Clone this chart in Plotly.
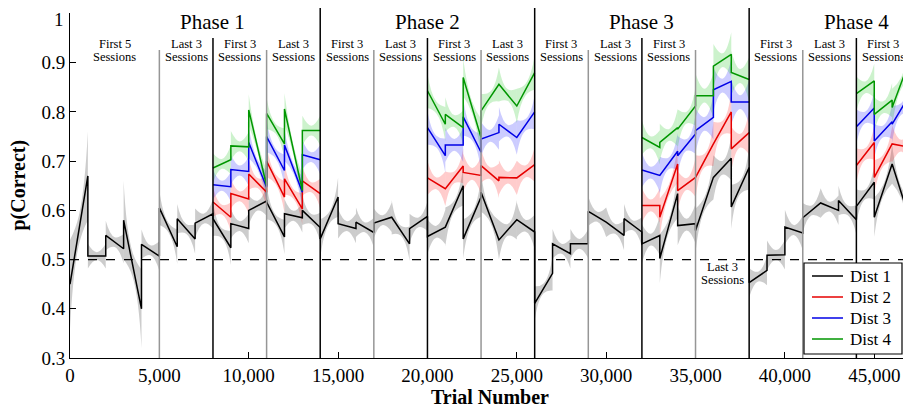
import plotly.graph_objects as go

SESSION_LEN = 1000  # trials per session

# ---- session start trials ----
all_sessions = [0, 1000, 2000, 3000, 4000, 5000, 6000, 7000,
                8000, 9000, 10000, 11000, 12000, 13000,
                14000, 15000, 16000, 17000, 18000, 19000,
                20000, 21000, 22000, 23000, 24000, 25000,
                26000, 27000, 28000, 29000, 30000, 31000,
                32000, 33000, 34000, 35000, 36000, 37000,
                38000, 39000, 40000, 41000, 42000, 43000,
                44000, 45000, 46000]
colored_sessions = [8000, 9000, 10000, 11000, 12000, 13000,
                    20000, 21000, 22000, 23000, 24000, 25000,
                    32000, 33000, 34000, 35000, 36000, 37000,
                    44000, 45000, 46000]

# ---- Dist 1 (all sessions) ----
dist1_start = [0.450, 0.507, 0.549, 0.580, 0.531, 0.605, 0.583, 0.574,
               0.583, 0.573, 0.600, 0.617, 0.593, 0.600,
               0.542, 0.573, 0.576, 0.574, 0.586, 0.563,
               0.547, 0.566, 0.542, 0.637, 0.540, 0.581,
               0.411, 0.532, 0.532, 0.598, 0.576, 0.583,
               0.532, 0.502, 0.569, 0.559, 0.667, 0.607,
               0.453, 0.509, 0.566, 0.585, 0.615, 0.620,
               0.608, 0.586, 0.694]
dist1_end = [0.670, 0.507, 0.522, 0.400, 0.507, 0.526, 0.542, 0.593,
             0.524, 0.563, 0.619, 0.546, 0.585, 0.565,
             0.627, 0.563, 0.555, 0.586, 0.532, 0.588,
             0.566, 0.650, 0.627, 0.540, 0.581, 0.556,
             0.472, 0.512, 0.532, 0.576, 0.549, 0.556,
             0.549, 0.634, 0.573, 0.667, 0.706, 0.687,
             0.478, 0.510, 0.554, 0.615, 0.600, 0.581,
             0.657, 0.694, 0.580]
dist1_ci_end = [0.090, 0.025, 0.030, 0.080, 0.030, 0.035, 0.030, 0.030,
                0.035, 0.030, 0.030, 0.035, 0.030, 0.030,
                0.040, 0.030, 0.030, 0.030, 0.035, 0.030,
                0.035, 0.040, 0.040, 0.040, 0.040, 0.035,
                0.035, 0.030, 0.030, 0.030, 0.030, 0.030,
                0.040, 0.050, 0.040, 0.045, 0.045, 0.045,
                0.030, 0.030, 0.035, 0.030, 0.030, 0.030,
                0.035, 0.040, 0.040]
dist1_ci_mid = [0.030, 0.008, 0.010, 0.025, 0.010, 0.010, 0.010, 0.010,
                0.010, 0.010, 0.010, 0.010, 0.010, 0.010,
                0.012, 0.010, 0.010, 0.010, 0.010, 0.010,
                0.012, 0.012, 0.012, 0.012, 0.012, 0.012,
                0.010, 0.010, 0.010, 0.010, 0.010, 0.010,
                0.012, 0.014, 0.012, 0.014, 0.014, 0.014,
                0.010, 0.010, 0.010, 0.010, 0.010, 0.010,
                0.010, 0.012, 0.012]

# ---- Dist 2 ----
dist2_start = [0.617, 0.634, 0.674, 0.700, 0.664, 0.660,
               0.666, 0.644, 0.677, 0.691, 0.667, 0.666,
               0.610, 0.586, 0.640, 0.667, 0.735, 0.725,
               0.691, 0.667, 0.735]
dist2_end = [0.586, 0.623, 0.637, 0.627, 0.603, 0.634,
             0.644, 0.690, 0.671, 0.660, 0.666, 0.693,
             0.610, 0.694, 0.667, 0.735, 0.800, 0.758,
             0.738, 0.735, 0.728]

# ---- Dist 3 ----
dist3_start = [0.652, 0.683, 0.738, 0.750, 0.733, 0.713,
               0.768, 0.733, 0.790, 0.745, 0.775, 0.748,
               0.682, 0.671, 0.711, 0.762, 0.845, 0.820,
               0.770, 0.741, 0.775]
dist3_end = [0.648, 0.679, 0.647, 0.681, 0.637, 0.703,
             0.711, 0.733, 0.718, 0.758, 0.748, 0.800,
             0.671, 0.720, 0.755, 0.789, 0.862, 0.820,
             0.808, 0.780, 0.836]

# ---- Dist 4 ----
dist4_start = [0.686, 0.731, 0.804, 0.797, 0.806, 0.762,
               0.843, 0.795, 0.870, 0.802, 0.856, 0.812,
               0.748, 0.738, 0.765, 0.833, 0.893, 0.880,
               0.837, 0.795, 0.809]
dist4_end = [0.703, 0.729, 0.650, 0.735, 0.640, 0.762,
             0.775, 0.768, 0.748, 0.856, 0.812, 0.880,
             0.728, 0.768, 0.812, 0.833, 0.917, 0.866,
             0.863, 0.824, 0.907]

colored_ci_end = [0.030, 0.030, 0.032, 0.032, 0.032, 0.030,
                  0.035, 0.035, 0.038, 0.035, 0.035, 0.035,
                  0.035, 0.038, 0.040, 0.045, 0.045, 0.045,
                  0.035, 0.035, 0.038]
colored_ci_mid = [0.010, 0.010, 0.010, 0.010, 0.010, 0.010,
                  0.012, 0.012, 0.012, 0.012, 0.012, 0.012,
                  0.012, 0.012, 0.012, 0.014, 0.014, 0.014,
                  0.012, 0.012, 0.012]

# ---- annotations text ----
phase_labels = ["Phase 1", "Phase 2", "Phase 3", "Phase 4"]
phase_centers = [8000, 20000, 32000, 44000]
block_labels = [("First 5", 2500), ("Last 3", 6500), ("First 3", 9500), ("Last 3", 12500),
                ("First 3", 15500), ("Last 3", 18500), ("First 3", 21500), ("Last 3", 24500),
                ("First 3", 27500), ("Last 3", 30500), ("First 3", 33500),
                ("First 3", 39500), ("Last 3", 42500), ("First 3", 45500)]
bottom_label = ("Last 3", 36500)
phase_lines = [14000, 26000, 38000]
part_lines = [8000, 20000, 32000, 44000]
block_lines = [5000, 11000, 17000, 23000, 29000, 35000, 41000]

yticks = [0.3, 0.4, 0.5, 0.6, 0.7, 0.8, 0.9, 1.0]
yticktext = ["0.3", "0.4", "0.5", "0.6", "0.7", "0.8", "0.9", "1"]
xticks = [0, 5000, 10000, 15000, 20000, 25000, 30000, 35000, 40000, 45000]
xticktext = ["0", "5,000", "10,000", "15,000", "20,000", "25,000", "30,000", "35,000", "40,000", "45,000"]

FONT = "Liberation Serif"
X0, X1 = 0, 47000
Y0, Y1 = 0.3, 1.001
# page body has an 8px margin; figure sized to fill the rest of the window
PAGE_OFF = 8
FIG_W, FIG_H = 911 - PAGE_OFF, 411 - PAGE_OFF
# plot-area bounds in window pixels
PLOT_L, PLOT_R, PLOT_TOP_PX, PLOT_BOT_PX = 70, 910, 13, 358
PLOT_H = PLOT_BOT_PX - PLOT_TOP_PX
PLOT_W = PLOT_R - PLOT_L


def py(px):
    """window pixel row -> paper y"""
    return (PLOT_BOT_PX - px) / PLOT_H


def pxp(px):
    """window pixel column -> paper x"""
    return (px - PLOT_L) / PLOT_W


fig = go.Figure()


def add_bands(starts, v0s, v1s, ce, cm, fillcolor):
    for xs, a, b, e, m in zip(starts, v0s, v1s, ce, cm):
        xm = xs + SESSION_LEN / 2
        x1 = xs + SESSION_LEN
        vm = (a + b) / 2
        fig.add_trace(go.Scatter(x=[xs, xm, x1], y=[a - e, vm - m, b - e], mode="lines",
                                 line=dict(width=0, color="rgba(0,0,0,0)", shape="spline", smoothing=1.3),
                                 showlegend=False, hoverinfo="skip"))
        fig.add_trace(go.Scatter(x=[xs, xm, x1], y=[a + e, vm + m, b + e], mode="lines",
                                 line=dict(width=0, color="rgba(0,0,0,0)", shape="spline", smoothing=1.3),
                                 fill="tonexty", fillcolor=fillcolor,
                                 showlegend=False, hoverinfo="skip"))


def line_xy(starts, v0s, v1s):
    xs_out, ys_out = [], []
    prev_end = None
    for xs, a, b in zip(starts, v0s, v1s):
        if prev_end is not None and xs != prev_end:
            xs_out.append(None)
            ys_out.append(None)
        xs_out += [xs, xs + SESSION_LEN]
        ys_out += [a, b]
        prev_end = xs + SESSION_LEN
    return xs_out, ys_out


add_bands(all_sessions, dist1_start, dist1_end, dist1_ci_end, dist1_ci_mid, "rgba(0,0,0,0.2)")
add_bands(colored_sessions, dist2_start, dist2_end, colored_ci_end, colored_ci_mid, "rgba(255,0,0,0.2)")
add_bands(colored_sessions, dist3_start, dist3_end, colored_ci_end, colored_ci_mid, "rgba(0,0,255,0.2)")
add_bands(colored_sessions, dist4_start, dist4_end, colored_ci_end, colored_ci_mid, "rgba(0,190,0,0.2)")

series = [("Dist 1", all_sessions, dist1_start, dist1_end, "black"),
          ("Dist 2", colored_sessions, dist2_start, dist2_end, "rgb(230,0,0)"),
          ("Dist 3", colored_sessions, dist3_start, dist3_end, "rgb(0,0,230)"),
          ("Dist 4", colored_sessions, dist4_start, dist4_end, "rgb(0,150,0)")]
for name, st, a, b, col in series:
    x, y = line_xy(st, a, b)
    fig.add_trace(go.Scatter(x=x, y=y, mode="lines", name=name, showlegend=False,
                             line=dict(color=col, width=1.5), connectgaps=False))

shapes = []
shapes.append(dict(type="line", xref="paper", yref="y", x0=0, x1=1, y0=0.5, y1=0.5,
                   line=dict(color="black", width=1.2, dash="dash")))
for xv in phase_lines:
    shapes.append(dict(type="line", xref="x", yref="paper", x0=xv, x1=xv, y0=0, y1=py(7),
                       line=dict(color="black", width=1.5)))
for xv in part_lines:
    shapes.append(dict(type="line", xref="x", yref="paper", x0=xv, x1=xv, y0=0, y1=py(38),
                       line=dict(color="black", width=1.5)))
for xv in block_lines:
    shapes.append(dict(type="line", xref="x", yref="paper", x0=xv, x1=xv, y0=0, y1=py(50),
                       line=dict(color="rgb(150,150,150)", width=1.5)))

annotations = []
for lab, xc in zip(phase_labels, phase_centers):
    annotations.append(dict(x=xc, y=py(22), xref="x", yref="paper", text=lab, showarrow=False,
                            font=dict(family=FONT, size=21, color="black"),
                            xanchor="center", yanchor="middle"))
for lab, xc in block_labels:
    annotations.append(dict(x=xc, y=py(44), xref="x", yref="paper", text=lab, showarrow=False,
                            font=dict(family=FONT, size=12.5, color="black"),
                            xanchor="center", yanchor="middle"))
    annotations.append(dict(x=xc, y=py(57), xref="x", yref="paper", text="Sessions", showarrow=False,
                            font=dict(family=FONT, size=12.5, color="black"),
                            xanchor="center", yanchor="middle"))
annotations.append(dict(x=bottom_label[1], y=py(267), xref="x", yref="paper", text=bottom_label[0],
                        showarrow=False, font=dict(family=FONT, size=12.5, color="black"),
                        xanchor="center", yanchor="middle"))
annotations.append(dict(x=bottom_label[1], y=py(280), xref="x", yref="paper", text="Sessions",
                        showarrow=False, font=dict(family=FONT, size=12.5, color="black"),
                        xanchor="center", yanchor="middle"))
annotations.append(dict(x=0.5, y=py(397), xref="paper", yref="paper", text="<b>Trial Number</b>",
                        showarrow=False, font=dict(family=FONT, size=20, color="black"),
                        xanchor="center", yanchor="middle"))
annotations.append(dict(x=pxp(18), y=0.5, xref="paper", yref="paper", text="<b>p(Correct)</b>",
                        showarrow=False, textangle=-90, font=dict(family=FONT, size=20, color="black"),
                        xanchor="center", yanchor="middle"))
# top y tick label placed as an annotation so it stays fully inside the page
annotations.append(dict(x=pxp(65), y=py(PAGE_OFF), xref="paper", yref="paper", text=yticktext[-1],
                        showarrow=False, font=dict(family=FONT, size=19, color="black"),
                        xanchor="right", yanchor="top", borderpad=0))

# ---- legend box (drawn with shapes + text) ----
LEG_L, LEG_R, LEG_T, LEG_B = 804, 902, 263, 354
legend_rows = [276, 297, 318, 339]
shapes.append(dict(type="rect", xref="paper", yref="paper", x0=pxp(LEG_L), x1=pxp(LEG_R),
                   y0=py(LEG_B), y1=py(LEG_T), fillcolor="white",
                   line=dict(color="black", width=1.2), layer="above"))
for (name, _, _, _, col), row in zip(series, legend_rows):
    shapes.append(dict(type="line", xref="paper", yref="paper", x0=pxp(812), x1=pxp(843),
                       y0=py(row), y1=py(row), line=dict(color=col, width=1.5), layer="above"))
    annotations.append(dict(x=pxp(848), y=py(row), xref="paper", yref="paper", text=name,
                            showarrow=False, font=dict(family=FONT, size=17, color="black"),
                            xanchor="left", yanchor="middle"))

axis_yticktext = yticktext[:-1] + [""]

fig.update_layout(
    width=FIG_W, height=FIG_H,
    margin=dict(l=PLOT_L - PAGE_OFF, r=FIG_W - (PLOT_R - PAGE_OFF),
                t=PLOT_TOP_PX - PAGE_OFF, b=FIG_H - (PLOT_BOT_PX - PAGE_OFF), autoexpand=False),
    paper_bgcolor="white", plot_bgcolor="white",
    font=dict(family=FONT, size=19, color="black"),
    shapes=shapes, annotations=annotations,
    showlegend=False,
    xaxis=dict(range=[X0, X1], showgrid=False, zeroline=False, showline=True, automargin=False,
               linecolor="black", linewidth=1, ticks="inside", ticklen=6, tickcolor="black",
               tickvals=xticks, ticktext=xticktext, ticklabeloverflow="allow",
               tickfont=dict(family=FONT, size=19, color="black")),
    yaxis=dict(range=[Y0, Y1], showgrid=False, zeroline=False, showline=True, automargin=False,
               linecolor="black", linewidth=1, ticks="inside", ticklen=6, tickcolor="black",
               tickvals=yticks, ticktext=axis_yticktext, ticklabeloverflow="allow",
               tickfont=dict(family=FONT, size=19, color="black")),
)

fig.write_html("out.html")
